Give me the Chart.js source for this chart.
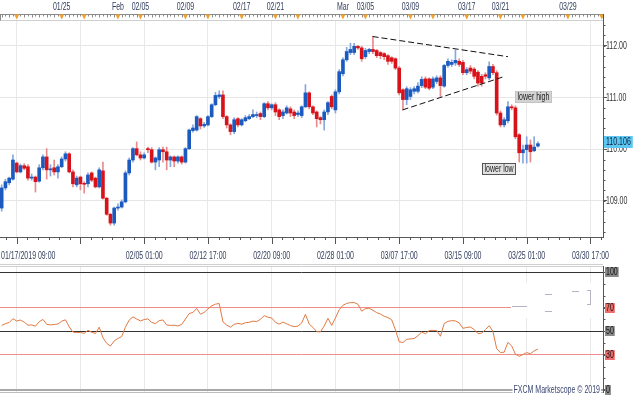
<!DOCTYPE html>
<html><head><meta charset="utf-8">
<script src="https://cdn.jsdelivr.net/npm/chart.js@4.4.1/dist/chart.umd.min.js"></script>
<style>
html,body{margin:0;padding:0;background:#fff;overflow:hidden;}
#wrap{position:relative;width:638px;height:397px;}
#c1{position:absolute;left:0;top:0;}
#c2{position:absolute;left:0;top:266px;}
</style></head><body>
<div id="wrap">
<canvas id="c1" width="638" height="266"></canvas>
<canvas id="c2" width="638" height="131"></canvas>
</div>
<script>
const FONT = "10px 'Liberation Sans', Arial, sans-serif";
const SX = 0.7;

const opens = [108.86,109.25,109.35,109.42,109.73,109.56,109.68,109.66,109.44,109.46,
109.38,109.64,109.85,109.60,109.64,109.56,109.66,109.81,109.91,109.56,
109.31,109.46,109.34,109.33,109.54,109.44,109.27,109.58,109.05,108.74,
108.57,108.86,108.88,108.98,109.54,109.79,110.01,109.89,109.83,110.01,
109.99,109.75,109.79,109.99,109.95,109.79,109.85,109.77,109.85,109.75,
110.01,110.36,110.37,110.59,110.45,110.47,110.63,110.86,111.02,111.05,
110.63,110.47,110.34,110.59,110.47,110.55,110.59,110.63,110.65,110.69,
110.63,110.88,110.80,110.86,110.76,110.65,110.70,110.78,110.72,110.67,
110.65,110.82,111.09,110.82,110.72,110.61,110.57,110.72,111.02,110.76,
111.11,111.46,111.73,111.87,111.87,111.99,111.96,111.79,111.89,111.93,
111.91,111.87,111.85,111.81,111.77,111.75,111.57,111.15,110.96,111.02,
111.12,111.12,111.23,111.36,111.36,111.20,111.31,111.38,111.22,111.62,
111.64,111.67,111.70,111.68,111.48,111.57,111.55,111.49,111.41,111.44,
111.38,111.60,111.48,110.70,110.47,110.55,110.82,110.80,110.28,109.93,
109.99,110.08,109.97,110.06];

const highs = [109.31,109.42,109.46,109.89,109.75,109.71,109.72,109.70,109.52,109.48,
109.70,109.89,110.01,109.70,109.79,109.70,109.85,109.95,109.93,109.60,
109.48,109.48,109.37,109.54,109.56,109.46,109.64,109.75,109.07,108.76,
108.88,108.94,109.02,109.58,109.83,110.03,110.14,109.95,109.93,110.04,
110.03,109.85,110.03,110.04,110.04,109.87,109.87,109.87,109.87,110.03,
110.39,110.47,110.65,110.61,110.52,110.65,110.88,111.10,111.13,111.13,
110.65,110.49,110.61,110.61,110.59,110.65,110.67,110.76,110.72,110.72,
110.90,110.92,110.88,110.90,110.78,110.76,110.84,110.82,110.76,110.74,
110.84,111.25,111.11,110.84,110.74,110.63,110.76,110.92,111.05,111.15,
111.54,111.77,111.97,112.05,112.05,112.01,111.99,111.95,111.95,112.18,
111.93,111.89,111.87,111.83,111.79,111.77,111.60,111.17,111.21,111.19,
111.21,111.29,111.40,111.40,111.38,111.40,111.42,111.42,111.64,111.75,
111.73,111.92,111.75,111.72,111.58,111.62,111.58,111.52,111.45,111.48,
111.69,111.64,111.52,110.74,110.61,110.92,110.86,110.84,110.30,110.08,
110.24,110.18,110.24,110.14];

const lows = [108.80,109.21,109.31,109.40,109.54,109.54,109.60,109.40,109.40,109.17,
109.36,109.60,109.42,109.48,109.50,109.44,109.64,109.77,109.54,109.27,
109.27,109.21,109.15,109.27,109.37,109.25,109.25,109.03,108.72,108.53,
108.53,108.82,108.86,108.96,109.50,109.75,109.87,109.79,109.81,109.93,
109.73,109.60,109.66,109.75,109.60,109.66,109.66,109.73,109.71,109.73,
109.99,110.33,110.35,110.39,110.42,110.45,110.61,110.84,110.98,110.59,
110.41,110.28,110.30,110.43,110.45,110.53,110.57,110.61,110.61,110.57,
110.61,110.76,110.76,110.65,110.57,110.59,110.68,110.63,110.59,110.63,
110.61,110.80,110.78,110.67,110.43,110.49,110.37,110.67,110.78,110.70,
111.07,111.42,111.70,111.83,111.83,111.93,111.70,111.75,111.85,111.85,
111.77,111.75,111.73,111.64,111.66,111.54,111.05,110.76,110.86,110.96,
111.07,111.09,111.19,111.17,111.15,111.17,111.27,111.02,111.20,111.58,
111.60,111.62,111.60,111.44,111.44,111.46,111.36,111.22,111.22,111.36,
111.34,111.44,110.66,110.43,110.43,110.51,110.76,110.20,109.75,109.73,
109.73,109.75,109.95,110.04];

const closes = [109.25,109.37,109.44,109.79,109.56,109.68,109.63,109.44,109.46,109.37,
109.64,109.85,109.60,109.62,109.56,109.66,109.81,109.91,109.56,109.33,
109.44,109.33,109.32,109.50,109.40,109.27,109.60,109.05,108.74,108.57,
108.86,108.88,108.98,109.54,109.79,110.01,109.89,109.83,109.89,109.99,
109.75,109.83,109.99,109.95,109.79,109.85,109.77,109.85,109.75,110.01,
110.37,110.41,110.63,110.45,110.48,110.63,110.86,111.04,111.05,110.63,
110.47,110.34,110.57,110.47,110.57,110.61,110.63,110.67,110.67,110.63,
110.88,110.80,110.86,110.72,110.63,110.72,110.80,110.70,110.65,110.70,
110.82,111.09,110.82,110.70,110.59,110.57,110.72,110.90,110.82,111.11,
111.50,111.73,111.89,111.93,111.99,111.96,111.75,111.91,111.93,111.89,
111.81,111.81,111.79,111.70,111.70,111.57,111.09,110.96,111.17,111.15,
111.17,111.22,111.35,111.20,111.18,111.36,111.38,111.23,111.62,111.70,
111.68,111.72,111.64,111.48,111.54,111.51,111.41,111.28,111.28,111.41,
111.60,111.48,110.70,110.47,110.57,110.82,110.80,110.24,109.93,109.99,
110.08,109.95,110.04,110.106];

const rsiValues = [55.0,56.5,57.4,60.6,58.7,59.5,57.8,55.1,55.4,54.3,
58.1,60.0,55.9,55.4,55.7,56.2,58.5,59.7,53.8,49.3,
48.9,49.0,48.3,50.8,49.2,48.1,53.5,44.5,39.8,37.5,
41.8,43.9,45.5,53.5,59.5,62.2,60.4,58.8,59.9,60.5,
57.5,56.5,59.0,59.6,55.3,55.0,55.1,54.5,55.8,60.4,
65.0,66.0,69.4,64.5,66.0,69.0,71.5,73.0,73.5,58.0,
55.3,53.4,55.9,56.7,56.0,57.3,57.6,58.6,58.2,60.2,
63.2,61.9,61.3,57.6,56.1,57.8,56.3,54.9,53.9,54.4,
57.0,64.4,56.1,53.3,49.7,49.5,54.5,61.0,55.0,61.3,
68.2,72.0,73.6,74.3,74.3,72.9,67.0,69.2,69.6,67.8,
65.8,64.6,62.7,61.6,59.7,51.2,41.1,40.5,43.2,43.5,
43.9,46.3,49.4,47.9,50.6,50.8,50.6,45.8,56.6,58.4,
59.0,58.8,57.1,52.5,53.2,53.6,51.5,48.0,48.4,51.4,
54.8,49.8,35.2,32.0,32.3,40.6,37.6,30.6,28.8,30.3,
31.9,31.0,33.4,35.0];

const bottomTickIdx = [4,21,38,55,72,89,106,123,140,157];
const bottomTickLabels = ['01/17/2019 09:00','','02/05 01:00','02/12 17:00','02/20 09:00','02/28 01:00','03/07 17:00','03/15 09:00','03/25 01:00','03/30 17:00'];
const topMarkerIdx = [4,16,22,31,37,49,55,64,73,79,91,97,109,115,124,133,139,151,160];
const topLabelIdx = [16,31,37,49,64,73,91,97,109,124,133,151];
const topLabels = ['01/25','Feb','02/05','02/09','02/17','02/21','Mar','03/05','03/09','03/17','03/21','03/29'];
const priceTicks = [109,110,111,112];
const rsiTicks = [0,30,50,70,100];
const upperTrend = [[98.9,112.18],[135.0,111.79]];
const lowerTrend = [[106.9,110.76],[134.2,111.41]];
const noteTexts = ['lower high','lower low'];
const noteIdx = [136.9,132.6];
const notePrice = [111.0,109.62];

const X_MIN = -0.45, X_MAX = 160.35;
const N = closes.length;
const idx = Array.from({length:N},(_,i)=>i);
const isUp = i => closes[i] >= opens[i];

function hline(ctx,x1,x2,y){ctx.beginPath();ctx.moveTo(x1,y);ctx.lineTo(x2,y);ctx.stroke();}
function vline(ctx,x,y1,y2){ctx.beginPath();ctx.moveTo(x,y1);ctx.lineTo(x,y2);ctx.stroke();}
function tw(ctx,t){ctx.font=FONT; return ctx.measureText(t).width*SX;}
function ctext(ctx,t,x,y,align,color){
  ctx.save();
  ctx.font = FONT; ctx.fillStyle = color; ctx.textAlign = align; ctx.textBaseline = 'middle';
  ctx.translate(x,y); ctx.scale(SX,1); ctx.fillText(t,0,0);
  ctx.restore();
}

function xScale(h, borderColor){
  return {
    type:'linear', min:X_MIN, max:X_MAX, offset:false,
    afterBuildTicks: s => { s.ticks = bottomTickIdx.map(v=>({value:v})); },
    afterFit: s => { s.height = h; },
    ticks:{display:false},
    grid:{color:'#e9e9e9', drawTicks:false, offset:false},
    border:{display:true, color:borderColor}
  };
}

const whiteBg = {
  id:'whiteBg',
  beforeDraw(chart){const c=chart.ctx;c.save();c.fillStyle='#fff';c.fillRect(0,0,chart.width,chart.height);c.restore();}
};

const DATE_C = '#34405e';

const mainDecor = {
  id:'mainDecor',
  afterDraw(chart){
    const {ctx, chartArea:a, scales:{x,y}} = chart;
    const px = v => x.getPixelForValue(v);
    const py = v => y.getPixelForValue(v);
    ctx.save();
    ctx.lineWidth = 1;
    ctx.strokeStyle = '#cfcfcf';
    hline(ctx,0,a.right,20.5);
    hline(ctx,0,a.right,264.5);
    // top ruler
    ctx.strokeStyle = '#8a8a8a';
    hline(ctx,0,a.right,14.5);
    vline(ctx,0.5,14.5,20.5);
    for(let v=0; v<=160; v++){
      const xx = Math.round(px(v))+0.5;
      vline(ctx,xx,14.5,(v%2)?16.5:17.5);
    }
    ctx.fillStyle = '#f2a12e';
    topMarkerIdx.forEach(v=>{
      const xx = px(v);
      ctx.beginPath();ctx.moveTo(xx-2.5,14.5);ctx.lineTo(xx+2.5,14.5);ctx.lineTo(xx,19.5);ctx.closePath();ctx.fill();
    });
    topLabels.forEach((t,k)=>ctext(ctx,t,px(topLabelIdx[k]),7,'center',DATE_C));
    // bottom axis ticks
    ctx.strokeStyle = '#555';
    bottomTickIdx.forEach(v=>{const xx=Math.round(px(v))+0.5; vline(ctx,xx,a.bottom,a.bottom+7);});
    const step = (bottomTickIdx[1]-bottomTickIdx[0])/6;
    for(let v=bottomTickIdx[0]-step; v<=X_MAX; v+=step){
      if (v < X_MIN) continue;
      const xx=Math.round(px(v))+0.5; vline(ctx,xx,a.bottom,a.bottom+3);
    }
    bottomTickLabels.forEach((t,k)=>{
      if(!t) return;
      if(k===0) ctext(ctx,t,1,256,'left',DATE_C);
      else ctext(ctx,t,px(bottomTickIdx[k]),256,'center',DATE_C);
    });
    // right axis extension + minor ticks + labels
    ctx.strokeStyle = '#555';
    vline(ctx,a.right+0.5,14,a.top);
    for(let k=542;k<=562;k++){
      const yy=Math.round(py(k/5))+0.5;
      if (yy>a.bottom) continue;
      hline(ctx,a.right,a.right+2.5,yy);
    }
    priceTicks.forEach(v=>ctext(ctx,v.toFixed(2),a.right+3,py(v)+0.5,'left','#333'));
    // last price box
    const last = closes[N-1];
    const ly = Math.round(py(last));
    const lt = last.toFixed(3);
    ctx.fillStyle = '#5cc7f2';
    ctx.fillRect(a.right+1, ly-8, tw(ctx,lt)+4, 12);
    ctext(ctx,lt,a.right+3,ly-1.5,'left','#0e1d36');
    // notes
    noteTexts.forEach((t,k)=>{
      const w = Math.round(tw(ctx,t)+5), h=12;
      const cx = px(noteIdx[k]), cy = py(notePrice[k]);
      const left = Math.round(k===0 ? cx : cx-w/2), top = Math.round(cy-h/2);
      ctx.fillStyle = k===0 ? '#d3d3d3' : '#e2e2e2';
      ctx.fillRect(left,top,w,h);
      ctx.strokeStyle = k===0 ? '#c4c4c4' : '#555';
      ctx.strokeRect(left+0.5,top+0.5,w-1,h-1);
      ctext(ctx,t,left+2.5,top+6.5,'left','#222');
    });
    ctx.restore();
  }
};

new Chart(document.getElementById('c1'), {
  type:'bar',
  data:{datasets:[
    {type:'line', data:upperTrend.map(p=>({x:p[0],y:p[1]})), borderColor:'#111', borderWidth:1, borderDash:[6,3], pointRadius:0, fill:false, order:1},
    {type:'line', data:lowerTrend.map(p=>({x:p[0],y:p[1]})), borderColor:'#111', borderWidth:1, borderDash:[6,3], pointRadius:0, fill:false, order:1},
    {data:idx.map(i=>({x:i,y:[opens[i],closes[i]]})), backgroundColor:c=>isUp(c.dataIndex)?'#1b5bc0':'#d8121b', barThickness:3, grouped:false, minBarLength:1, borderWidth:0, order:2},
    {data:idx.map(i=>({x:i,y:[lows[i],highs[i]]})), backgroundColor:c=>isUp(c.dataIndex)?'#86a8de':'#ea8b8b', barThickness:1, grouped:false, borderWidth:0, order:3}
  ]},
  options:{
    responsive:false, animation:false, events:[],
    layout:{padding:{top:20,left:0,right:0,bottom:0}},
    plugins:{legend:{display:false}, tooltip:{enabled:false}},
    scales:{
      x: xScale(29,'#5a5a5a'),
      y: {
        type:'linear', position:'right', min:108.3, max:112.5,
        afterBuildTicks: s => { s.ticks = priceTicks.map(v=>({value:v})); },
        afterFit: s => { s.width = 35; },
        ticks:{display:false},
        grid:{color:'#e6e6e6', tickColor:'#555', tickLength:4, drawTicks:true},
        border:{display:true, color:'#555'}
      }
    }
  },
  plugins:[whiteBg, mainDecor]
});

const rsiDecor = {
  id:'rsiDecor',
  beforeDatasetsDraw(chart){
    const {ctx, chartArea:a} = chart;
    ctx.save();
    ctx.fillStyle = '#fff';
    ctx.fillRect(511, 17, a.right-511, 35);
    ctx.strokeStyle = '#b4b4c4'; ctx.lineWidth = 1;
    hline(ctx,512,527,40.5);
    hline(ctx,545,552,28.5); hline(ctx,545,552,45.5); hline(ctx,572,579,25.5);
    vline(ctx,590.5,24,39); hline(ctx,587,590.5,24.5); hline(ctx,587,590.5,38.5);
    ctx.restore();
  },
  afterDraw(chart){
    const {ctx, chartArea:a, scales:{y}} = chart;
    ctx.save();
    ctx.strokeStyle = '#cfcfcf'; ctx.lineWidth = 1;
    hline(ctx,0,a.right,0.5);
    ctx.strokeStyle = '#555';
    vline(ctx,a.right+0.5,0,a.top);
    for(let v=10; v<100; v+=10){
      const yy = Math.round(y.getPixelForValue(v))+0.5;
      hline(ctx,a.right,a.right+2.5,yy);
    }
    rsiTicks.forEach(v=>{
      const t = String(v);
      const yy = Math.round(y.getPixelForValue(v));
      const w = tw(ctx,t)+2;
      ctx.fillStyle = (v===30||v===70) ? '#ee6b6b' : '#8a8a8a';
      ctx.fillRect(a.right+2, yy-5, w, 10);
      ctext(ctx,t,a.right+3,yy+0.5,'left','#111');
    });
    const t = 'FXCM Marketscope \u00A9 2019';
    const w = tw(ctx,t);
    ctx.fillStyle = '#fff';
    ctx.fillRect(a.right-3-w-1, 119, w+2, 10);
    ctext(ctx,t,a.right-3,124.5,'right','#3a4670');
    ctx.restore();
  }
};

new Chart(document.getElementById('c2'), {
  type:'line',
  data:{datasets:[
    {data:idx.map(i=>({x:i,y:rsiValues[i]})), borderColor:'#e27a42', borderWidth:1, pointRadius:0, tension:0, fill:false}
  ]},
  options:{
    responsive:false, animation:false, events:[],
    layout:{padding:{top:0,left:0,right:0,bottom:0}},
    plugins:{legend:{display:false}, tooltip:{enabled:false}},
    scales:{
      x: xScale(5,'#bdbdbd'),
      y: {
        type:'linear', position:'right', min:-1.44, max:105.3,
        afterBuildTicks: s => { s.ticks = rsiTicks.map(v=>({value:v})); },
        afterFit: s => { s.width = 35; },
        ticks:{display:false},
        grid:{
          color:c=>{const v=c.tick?c.tick.value:0; return (v===30||v===70)?'#f08c8c':(v===0?'#a8a8a8':'#333');},
          lineWidth:c=>(c.tick && c.tick.value===0)?2:1,
          tickColor:'#555', tickLength:2, drawTicks:true
        },
        border:{display:true, color:'#555'}
      }
    }
  },
  plugins:[whiteBg, rsiDecor]
});
</script>
</body></html>
